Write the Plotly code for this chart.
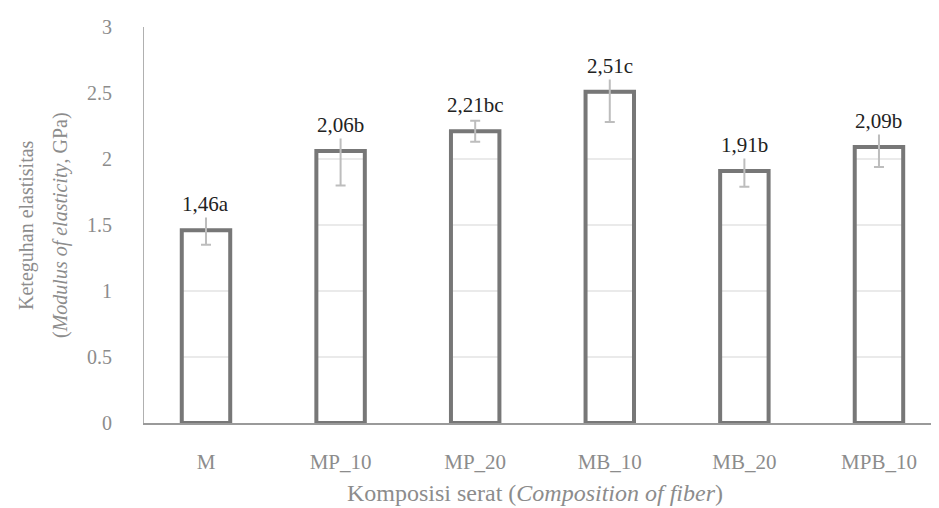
import plotly.graph_objects as go

categories = ["M", "MP_10", "MP_20", "MB_10", "MB_20", "MPB_10"]
values = [1.46, 2.06, 2.21, 2.51, 1.91, 2.09]
errors = [0.11, 0.26, 0.08, 0.23, 0.12, 0.15]
labels = ["1,46a", "2,06b", "2,21bc", "2,51c", "1,91b", "2,09b"]
y_ticks = [0, 0.5, 1, 1.5, 2, 2.5, 3]
y_tick_text = ["0", "0.5", "1", "1.5", "2", "2.5", "3"]

FONT = "Liberation Serif, DejaVu Serif, Times New Roman, serif"
GREY = "#8c8c8c"
BAR_W = 0.36
idx = list(range(len(categories)))

# page has an 8px body margin: plot area wanted at x 144..939, y 20..423 on screen
OFF = 8
L, T = 144 - OFF, 20 - OFF
PLOT_W = 939 - OFF - L
B = 508 - (423 - OFF)

fig = go.Figure()
fig.add_trace(go.Bar(
    x=idx, y=values, width=BAR_W,
    marker=dict(color="rgba(255,255,255,0)", line=dict(color="#777777", width=4)),
    error_y=dict(type="data", array=errors, visible=True, color="#bdbdbd",
                 thickness=2, width=5),
    hoverinfo="skip",
))

shapes = []
for i, v in zip(idx, values):
    for t in y_ticks:
        if 0 < t < v:
            shapes.append(dict(type="line", xref="x", yref="y",
                               x0=i - BAR_W / 2, x1=i + BAR_W / 2, y0=t, y1=t,
                               line=dict(color="#e3e3e3", width=1.5), layer="below"))

annotations = []
for i, v, lab in zip(idx, values, labels):
    annotations.append(dict(x=i, y=v, xref="x", yref="y", text=lab, showarrow=False,
                            yshift=26, yanchor="middle", bgcolor="white",
                            font=dict(family=FONT, size=21, color="#222222")))

annotations.append(dict(
    xref="paper", yref="paper", x=0, y=0.5, xshift=(26 - 144), xanchor="center",
    yanchor="middle", textangle=-90, showarrow=False,
    text="Keteguhan elastisitas",
    font=dict(family=FONT, size=20, color=GREY)))
annotations.append(dict(
    xref="paper", yref="paper", x=0, y=0.5, xshift=(60 - 144), xanchor="center",
    yanchor="middle", textangle=-90, showarrow=False,
    text="(<i>Modulus of elasticity</i>, GPa)",
    font=dict(family=FONT, size=20, color=GREY)))
annotations.append(dict(
    xref="paper", yref="paper", x=(535 - 144) / PLOT_W, y=0, yshift=-(493 - 423),
    xanchor="center", yanchor="middle", showarrow=False,
    text="Komposisi serat (<i>Composition of fiber</i>)",
    font=dict(family=FONT, size=24, color=GREY)))

fig.update_layout(
    width=939, height=508,
    margin=dict(l=L, r=OFF, t=T, b=B),
    plot_bgcolor="white", paper_bgcolor="white",
    showlegend=False,
    shapes=shapes, annotations=annotations,
    font=dict(family=FONT),
)
fig.update_xaxes(
    tickmode="array", tickvals=idx, ticktext=categories,
    range=[-0.4606, 5.446], showgrid=False, zeroline=False,
    showline=True, linecolor="#9a9a9a", linewidth=1.5,
    ticks="", ticklabelstandoff=19,
    tickfont=dict(family=FONT, size=21, color=GREY),
)
fig.update_yaxes(
    range=[0, 3], tickmode="array", tickvals=y_ticks, ticktext=y_tick_text,
    showgrid=False, zeroline=False,
    showline=True, linecolor="#b0b0b0", linewidth=1,
    ticks="", ticklabelstandoff=27,
    tickfont=dict(family=FONT, size=20, color=GREY),
)

fig.write_html("out.html")
